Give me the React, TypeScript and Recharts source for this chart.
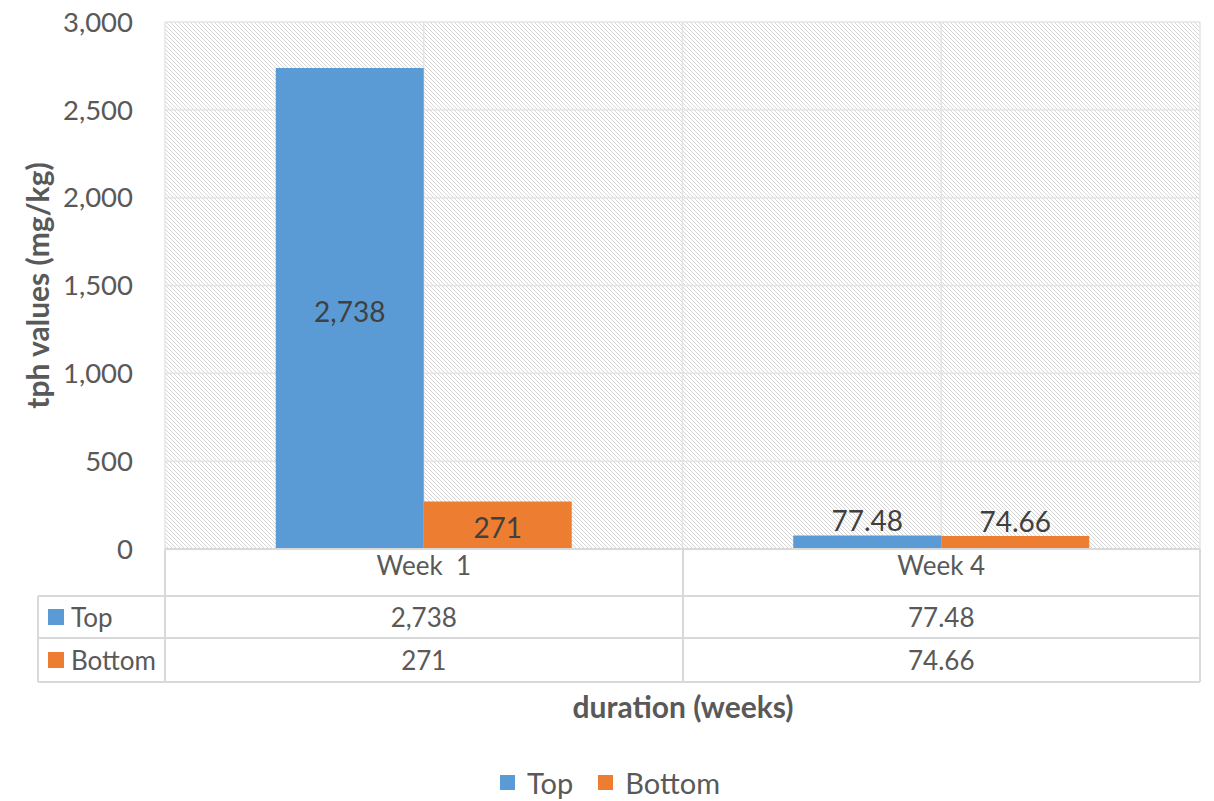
import React from "react";
import { BarChart, Bar, XAxis, YAxis, CartesianGrid, LabelList } from "recharts";

const categories = ["Week  1", "Week 4"];
const topValues = [2738, 77.48];
const bottomValues = [271, 74.66];
const yTicks = [0, 500, 1000, 1500, 2000, 2500, 3000];
const seriesNames = ["Top", "Bottom"];
const seriesKeys = ["top", "bottom"];
const COLORS = ["#5B9BD5", "#ED7D31"];

const W = 1214;
const H = 801;
const PLOT_LEFT = 165;
const PLOT_RIGHT = 1200;
const PLOT_TOP = 22;
const PLOT_BOTTOM = 549;
const TABLE_LEFT = 38;
const ROW_H = [47, 42, 44];
const FONT = "Lato, 'Open Sans', sans-serif";
const TEXT = "#595959";
const LINE = "#d9d9d9";

const data = categories.map((name, i) => ({ name, top: topValues[i], bottom: bottomValues[i] }));

const fmt = (v: number) => v.toLocaleString("en-US", { maximumFractionDigits: 2 });

function BarLabel(props: any) {
  const { x, y, width, height, value } = props;
  const inside = height > 30;
  return (
    <text
      x={x + width / 2}
      y={inside ? y + height / 2 + 2 : y - 4}
      textAnchor="middle"
      dominantBaseline={inside ? "central" : "auto"}
      fill="#404040"
      fontSize={28}
      fontFamily={FONT}
    >
      {fmt(value)}
    </text>
  );
}

const hLine = (top: number, left: number, width: number, key: string) => (
  <div key={key} style={{ position: "absolute", left, top: top - 1, width, height: 2, background: LINE }} />
);
const vLine = (left: number, top: number, height: number, key: string) => (
  <div key={key} style={{ position: "absolute", left: left - 1, top, width: 2, height, background: LINE }} />
);

export default function App() {
  const colW = (PLOT_RIGHT - PLOT_LEFT) / categories.length;
  const row1 = PLOT_BOTTOM + ROW_H[0];
  const tableBottom = row1 + ROW_H[1] + ROW_H[2];

  return (
    <div style={{ position: "absolute", left: 0, top: 0, width: W, height: H, background: "#fff", fontFamily: FONT, color: TEXT }}>
      <BarChart
        width={W}
        height={H}
        data={data}
        margin={{ top: PLOT_TOP, right: W - PLOT_RIGHT, bottom: H - PLOT_BOTTOM - 47, left: PLOT_LEFT - 140 }}
        barGap={0}
        barCategoryGap="21.4%"
      >
        <defs>
          <pattern id="hatch" width="4" height="4" patternUnits="userSpaceOnUse">
            <rect width="4" height="4" fill="#ffffff" />
            <path d="M-1,-1 L5,5 M-1,3 L1,5 M3,-1 L5,1" stroke="#d6d6d6" strokeWidth="1" />
          </pattern>
        </defs>
        <CartesianGrid
          fill="url(#hatch)"
          fillOpacity={1}
          stroke="#e4e4e4"
          strokeWidth={1.5}
          verticalCoordinatesGenerator={({ offset }: any) =>
            [0, 1, 2, 3, 4].map((k) => offset.left + (offset.width * k) / 4)
          }
        />
        <XAxis
          dataKey="name"
          height={47}
          interval={0}
          axisLine={{ stroke: LINE, strokeWidth: 2 }}
          tickLine={false}
          tickSize={0}
          tickMargin={8}
          tickFormatter={(v: string) => v.replace(/  /g, " \u00a0")}
          tick={{ fill: TEXT, fontSize: 26, fontFamily: FONT }}
        />
        <YAxis
          width={140}
          domain={[0, 3000]}
          ticks={yTicks}
          interval={0}
          axisLine={false}
          tickLine={false}
          tickSize={0}
          tickMargin={32}
          tickFormatter={(v: number) => fmt(v)}
          tick={{ fill: TEXT, fontSize: 27.5, fontFamily: FONT }}
          label={{
            value: "tph values (mg/kg)",
            angle: -90,
            position: "insideLeft",
            offset: 13,
            style: { fill: TEXT, fontSize: 30, fontWeight: 700, fontFamily: FONT, textAnchor: "middle" },
          }}
        />
        {seriesKeys.map((k, i) => (
          <Bar key={k} dataKey={k} name={seriesNames[i]} fill={COLORS[i]} isAnimationActive={false}>
            <LabelList dataKey={k} content={BarLabel} />
          </Bar>
        ))}
      </BarChart>

      {/* data table under the plot */}
      {hLine(row1, TABLE_LEFT, PLOT_RIGHT - TABLE_LEFT, "h1")}
      {hLine(row1 + ROW_H[1], TABLE_LEFT, PLOT_RIGHT - TABLE_LEFT, "h2")}
      {hLine(tableBottom, TABLE_LEFT, PLOT_RIGHT - TABLE_LEFT, "h3")}
      {vLine(TABLE_LEFT, row1, tableBottom - row1, "v0")}
      {[0, 1, 2].map((k) => vLine(PLOT_LEFT + colW * k, PLOT_BOTTOM, tableBottom - PLOT_BOTTOM, "v" + (k + 1)))}
      {seriesNames.map((s, i) => {
        const top = row1 + (i === 0 ? 0 : ROW_H[1]);
        const h = ROW_H[i + 1];
        const vals = i === 0 ? topValues : bottomValues;
        return (
          <React.Fragment key={s}>
            <div style={{ position: "absolute", left: TABLE_LEFT + 10, top, height: h, display: "flex", alignItems: "center", fontSize: 26 }}>
              <span style={{ width: 16, height: 16, background: COLORS[i], marginRight: 7 }} />
              {s}
            </div>
            {vals.map((v, j) => (
              <div
                key={j}
                style={{ position: "absolute", left: PLOT_LEFT + colW * j, top, width: colW, height: h, display: "flex", alignItems: "center", justifyContent: "center", fontSize: 26 }}
              >
                {fmt(v)}
              </div>
            ))}
          </React.Fragment>
        );
      })}

      <div style={{ position: "absolute", left: 0, width: W, top: 688, textAlign: "center", paddingLeft: 152, boxSizing: "border-box", fontSize: 30, fontWeight: 700 }}>
        duration (weeks)
      </div>

      <div style={{ position: "absolute", left: 500, top: 765, display: "flex", alignItems: "center", fontSize: 29 }}>
        {seriesNames.map((s, i) => (
          <div key={s} style={{ display: "flex", alignItems: "center", marginRight: 25 }}>
            <span style={{ width: 15, height: 15, background: COLORS[i], marginRight: 12 }} />
            {s}
          </div>
        ))}
      </div>
    </div>
  );
}
